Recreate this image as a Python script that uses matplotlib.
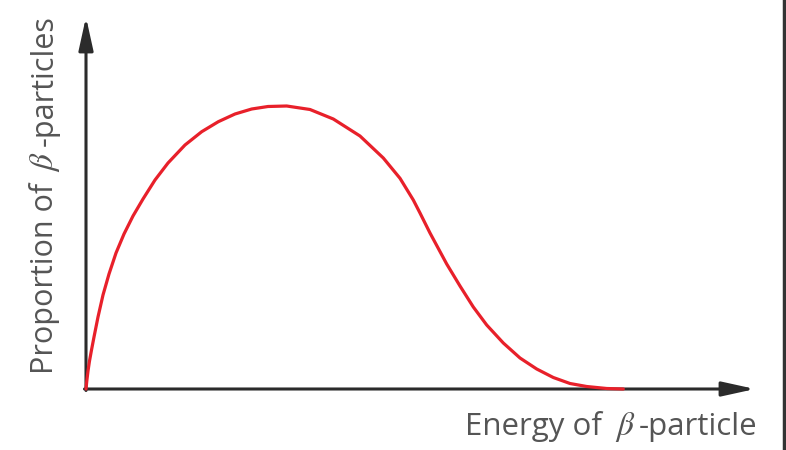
import matplotlib
matplotlib.use("Agg")
import matplotlib.pyplot as plt
from matplotlib.lines import Line2D

plt.rcParams['font.family'] = ['Open Sans', 'DejaVu Sans']
plt.rcParams['mathtext.fontset'] = 'stix'

# Curve values (energy, proportion) in arbitrary units
energy = [0.0, 0.8, 2.0, 3.5, 5.5, 8.0, 12.0, 17.0, 23.0, 30.0, 38.0, 47.0,
          57.0, 69.0, 82.0, 99.0, 115.7, 132.3, 149.0, 165.7, 182.0, 200.7,
          224.0, 247.3, 274.0, 297.3, 314.0, 327.3, 334.0, 344.0, 360.7, 374.0,
          387.3, 400.7, 417.3, 434.0, 450.7, 467.3, 484.0, 500.7, 520.7, 537.3]
proportion = [0.0, 8.0, 18.0, 28.0, 39.0, 52.0, 72.0, 94.0, 115.0, 136.0, 155.0,
              173.0, 190.0, 209.0, 226.0, 244.0, 257.3, 267.3, 275.0, 280.0,
              282.5, 283.0, 279.5, 270.0, 253.0, 231.0, 210.7, 189.0, 176.0,
              156.0, 125.0, 103.0, 82.0, 64.0, 46.0, 31.0, 20.0, 11.5, 5.5, 2.5,
              0.5, 0.0]

x_label_parts = ["Energy of", r"$\beta$", "-particle"]
y_label_parts = ["Proportion of", r"$\beta$", "-particles"]

fig = plt.figure(figsize=(7.86, 4.5), dpi=100)
ax = fig.add_axes([0, 0, 1, 1])
ax.set_xlim(-86, 700)
ax.set_ylim(-61, 389)
ax.axis('off')

axis_col = '#2b2b2b'
arrow_kw = dict(arrowstyle='-|>,head_length=1.0,head_width=0.22',
                mutation_scale=20, color=axis_col, lw=2.2, shrinkA=0, shrinkB=0)
ax.annotate('', xy=(669, 0), xytext=(-1.5, 0), arrowprops=arrow_kw)
ax.annotate('', xy=(0, 372), xytext=(0, -1.5), arrowprops=arrow_kw)

ax.plot(energy, proportion, color='#e8202a', lw=2.3, solid_capstyle='round',
        solid_joinstyle='round', zorder=3)

txt_col = '#555555'
fs = 22
# x label
ax.text(379, -45.5, x_label_parts[0], ha='left', va='baseline', fontsize=22.5, color=txt_col)
ax.text(539, -45.5, x_label_parts[1], ha='center', va='baseline', fontsize=24, color=txt_col)
ax.text(671, -45.5, x_label_parts[2], ha='right', va='baseline', fontsize=22.5, color=txt_col)
# y label
ax.text(-33, 15, y_label_parts[0], ha='left', va='baseline', rotation=90,
        rotation_mode='anchor', fontsize=fs, color=txt_col)
ax.text(-33, 227, y_label_parts[1], ha='center', va='baseline', rotation=90,
        rotation_mode='anchor', fontsize=24, color=txt_col)
ax.text(-33, 374, y_label_parts[2], ha='right', va='baseline', rotation=90,
        rotation_mode='anchor', fontsize=fs, color=txt_col)

fig.add_artist(Line2D([0.9975, 0.9975], [0, 1], transform=fig.transFigure,
                      color='#333333', lw=2.5))

fig.savefig('out.png', dpi=100)
